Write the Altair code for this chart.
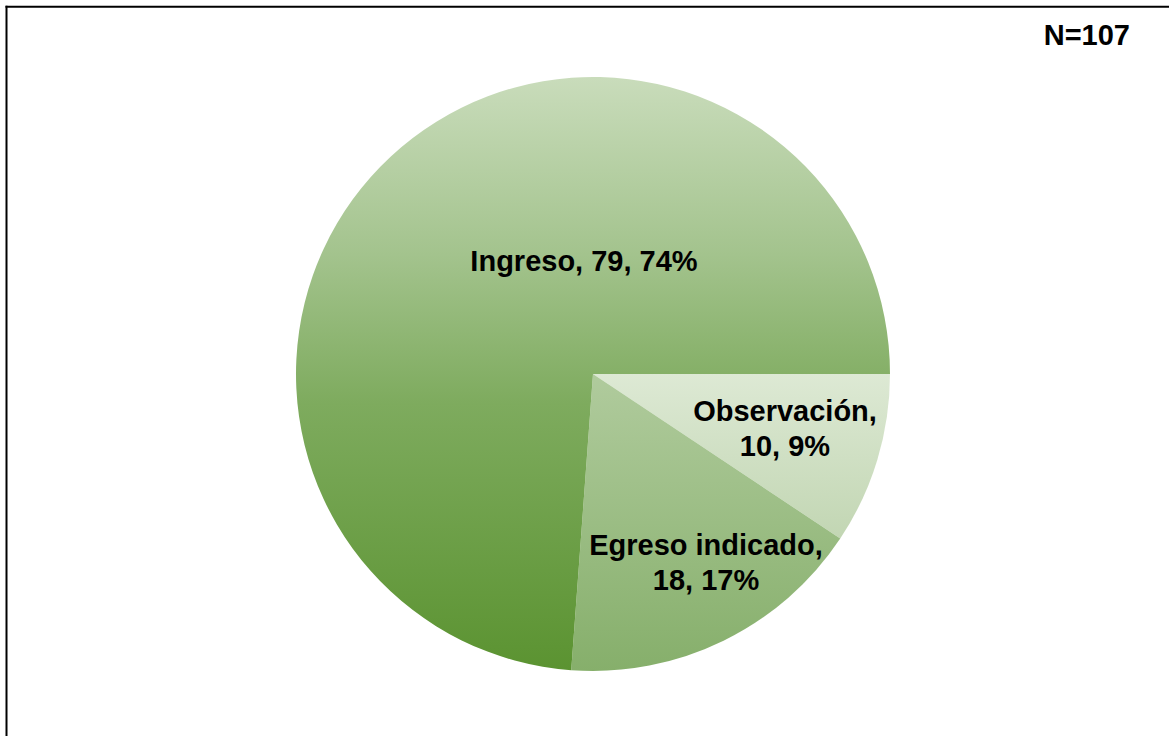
import math
import altair as alt
import pandas as pd

# ---- data ----
categories = ["Observación", "Egreso indicado", "Ingreso"]
counts = [10, 18, 79]
percents = [9, 17, 74]
total_n = 107

# label text (line breaks as in the original)
label_lines = [
    ["Observación,", "10, 9%"],
    ["Egreso indicado,", "18, 17%"],
    ["Ingreso, 79, 74%"],
]

df = pd.DataFrame({
    "cat": categories,
    "count": counts,
    "pct": percents,
    "order": list(range(len(categories))),
    "label": ["\n".join(l) for l in label_lines],
})

# ---- styles ----
grad = {
    "Ingreso": [("#c9dcbb", 0.0), ("#a3c38d", 0.3), ("#7eab5e", 0.55), ("#5b9331", 1.0)],
    "Egreso indicado": [("#b0cb9d", 0.0), ("#86af6b", 1.0)],
    "Observación": [("#dde9d4", 0.0), ("#c2d6b3", 1.0)],
}

CX, CY, R = 593, 374, 297
FONT = "Liberation Sans"

theta_scale = alt.Scale(domain=[0, total_n], range=[math.pi / 2, math.pi / 2 + 2 * math.pi])

base = alt.Chart(df).transform_stack(
    stack="count", groupby=[], as_=["c0", "c1"],
    sort=[alt.SortField(field="order", order="ascending")],
)

layers = []
for cat in categories:
    stops = [alt.GradientStop(color=c, offset=o) for c, o in grad[cat]]
    g = alt.LinearGradient(gradient="linear", stops=stops, x1=0, x2=0, y1=0, y2=1)
    layers.append(
        base.transform_filter(alt.datum.cat == cat)
        .mark_arc(fill=g, outerRadius=R, innerRadius=0, stroke=None)
        .encode(
            theta=alt.Theta("c0:Q", scale=theta_scale),
            theta2="c1:Q",
            x=alt.value(CX),
            y=alt.value(CY),
        )
    )

# label anchor points (annotation placement as in the reference)
label_pos = {
    "Ingreso": (584, 262),
    "Observación": (785, 412),
    "Egreso indicado": (706, 546),
}
for cat in categories:
    px, py = label_pos[cat]
    layers.append(
        alt.Chart(df).transform_filter(alt.datum.cat == cat)
        .mark_text(font=FONT, fontSize=29, fontWeight="bold", color="#000000",
                   align="center", baseline="middle", lineBreak="\n", lineHeight=35)
        .encode(text="label:N", x=alt.value(px), y=alt.value(py))
    )

# N label
layers.append(
    alt.Chart(pd.DataFrame({"t": [f"N={total_n}"]}))
    .mark_text(font=FONT, fontSize=29, fontWeight="bold", color="#000000",
               align="right", baseline="alphabetic")
    .encode(text="t:N", x=alt.value(1130), y=alt.value(45))
)

# frame (left and top edges visible in the window)
layers.append(
    alt.Chart(pd.DataFrame({"a": [0]})).mark_rule(color="#000000", strokeWidth=2)
    .encode(x=alt.value(6.5), y=alt.value(5.8), y2=alt.value(736))
)
layers.append(
    alt.Chart(pd.DataFrame({"a": [0]})).mark_rule(color="#000000", strokeWidth=2)
    .encode(x=alt.value(5.5), x2=alt.value(1169), y=alt.value(6.8))
)

chart = alt.layer(*layers).properties(
    width=1169, height=736,
    autosize=alt.AutoSizeParams(type="none"),
    padding=0,
    background="#ffffff",
).configure_view(stroke=None)

chart.save("out.html", embed_options={"renderer": "svg", "actions": False})
